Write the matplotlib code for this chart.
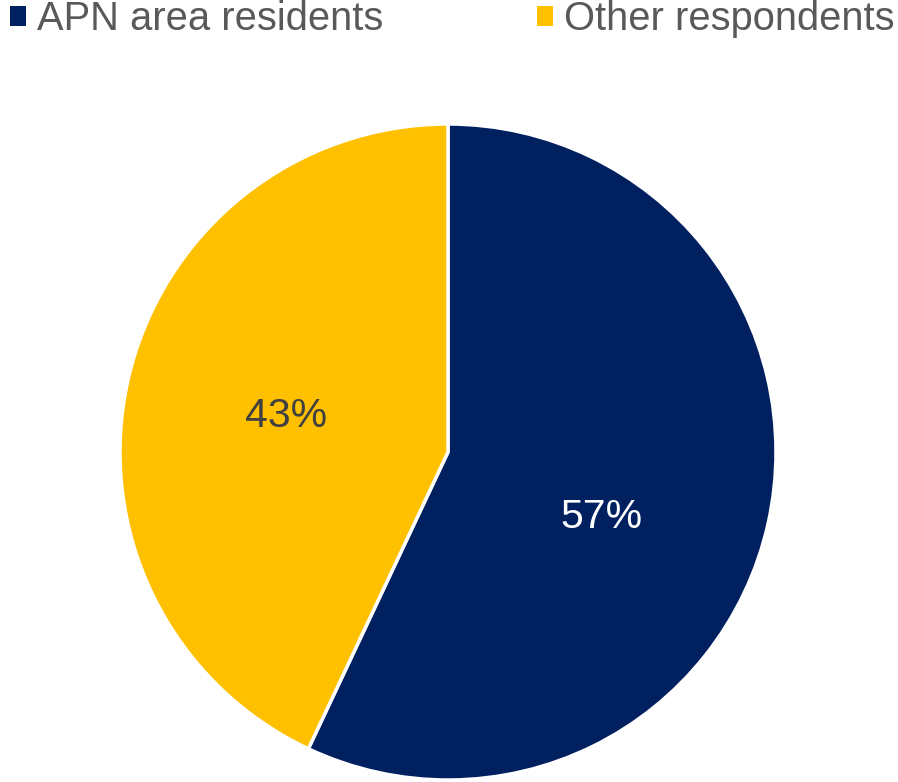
import matplotlib
matplotlib.use("Agg")
import matplotlib.pyplot as plt
from matplotlib.patches import Patch

categories = ["APN area residents", "Other respondents"]
shares = [57, 43]
colors = ["#002060", "#FFC000"]
label_colors = ["#FFFFFF", "#404040"]

plt.rcParams["font.family"] = ["Liberation Sans", "DejaVu Sans"]

W, H = 898, 782
fig = plt.figure(figsize=(W / 100, H / 100), dpi=100)
ax = fig.add_axes([0, 0, 1, 1])

R = 328.0
cx, cy = 448.0, 452.0  # pie centre in pixels from top-left

wedges, texts, autotexts = ax.pie(
    shares,
    colors=colors,
    startangle=90,
    counterclock=False,
    radius=1.0,
    autopct=lambda p: f"{p:.0f}%",
    pctdistance=0.5,
    wedgeprops=dict(edgecolor="white", linewidth=2.5),
    textprops=dict(fontsize=29.5),
)
for t, c in zip(autotexts, label_colors):
    t.set_color(c)
# nudge the large-slice label downward
x0, y0 = autotexts[0].get_position()
autotexts[0].set_position((x0 - 0.02, y0 - 0.09))
x1, y1 = autotexts[1].get_position()
autotexts[1].set_position((x1 - 0.005, y1))

ax.set_xlim(-cx / R, (W - cx) / R)
ax.set_ylim(-(H - cy) / R, cy / R)
ax.set_aspect("equal", adjustable="box")
ax.axis("off")

handles = [Patch(facecolor=c, edgecolor="none") for c in colors]
leg = fig.legend(
    handles,
    categories,
    loc="upper left",
    bbox_to_anchor=(10 / W, 1 - 0 / H),
    ncol=2,
    frameon=False,
    fontsize=28.7,
    handlelength=0.4,
    handleheight=0.4,
    handletextpad=0.28,
    columnspacing=3.85,
    borderpad=0,
    borderaxespad=0,
)
for t in leg.get_texts():
    t.set_color("#595959")

fig.savefig("out.png", dpi=100)
